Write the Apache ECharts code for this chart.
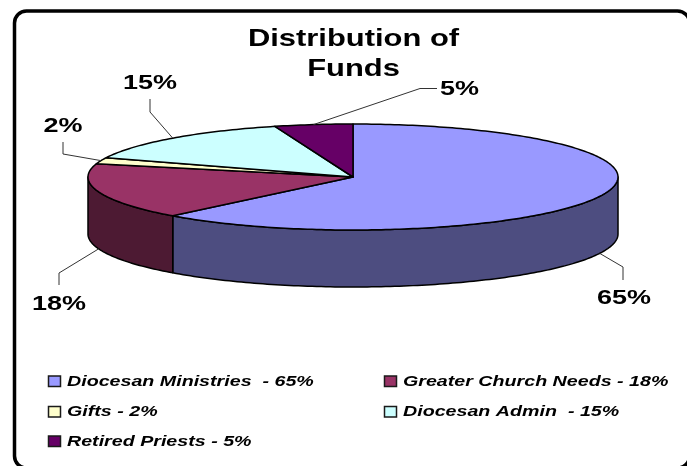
<!DOCTYPE html>
<html>
<head>
<meta charset="utf-8">
<style>
  html, body { margin: 0; padding: 0; background: #fff; }
  #chart { width: 687px; height: 466px; }
</style>
<script src="https://cdn.jsdelivr.net/npm/echarts@6/dist/echarts.min.js"></script>
</head>
<body>
<div id="chart"></div>
<script>
// values as labelled on the slide (they add up to 105, the slices are shares of that sum)
const categories = ["Diocesan Ministries  - 65%", "Greater Church Needs - 18%", "Gifts - 2%", "Diocesan Admin  - 15%", "Retired Priests - 5%"];
const values = [65, 18, 2, 15, 5];
const percentLabels = ["65%", "18%", "2%", "15%", "5%"];
const titleText = "Distribution of\nFunds";

const topColors = ["#9999ff", "#993366", "#ffffcc", "#ccffff", "#660066"];
const sideColors = ["#4d4d80", "#4d1a33", "#808066", "#668080", "#330033"];

// pie geometry
const cx = 353, cy = 177, rx = 265, ry = 53, depth = 57;

// leader line bend + end, then label centre, one per slice
const leaders = [
  { bend: [623, 267], end: [623, 280], text: [624, 298] },
  { bend: [59, 273], end: [59, 285], text: [59, 304] },
  { bend: [63, 154], end: [63, 142], text: [63, 126] },
  { bend: [150, 112], end: [150, 99], text: [150, 83] },
  { bend: [420, 88.5], end: [437, 88.5], text: [459.5, 89] }
];
// legend cells, filled by row
const legendX = [48, 384], legendY = [381.5, 412, 441.5];

const total = values.reduce((a, b) => a + b, 0);

function pt(deg, dy) {
  const r = deg * Math.PI / 180;
  return [cx + rx * Math.sin(r), cy - ry * Math.cos(r) + (dy || 0)];
}

function arc(from, to, dy) {
  const res = [];
  const n = Math.max(2, Math.ceil(to - from));
  for (let i = 0; i <= n; i++) {
    res.push(pt(from + (to - from) * i / n, dy));
  }
  return res;
}

function renderSlice(params, api) {
  const i = params.dataIndex;
  let before = 0;
  for (let k = 0; k < i; k++) before += values[k];
  const start = before / total * 360;
  const end = (before + api.value(0)) / total * 360;
  const mid = (start + end) / 2;
  const children = [];

  // front wall, only the part between 90 and 270 degrees shows
  const wallFrom = Math.max(start, 90), wallTo = Math.min(end, 270);
  if (wallTo > wallFrom) {
    children.push({
      type: "polygon",
      shape: { points: arc(wallFrom, wallTo, 0).concat(arc(wallFrom, wallTo, depth).reverse()) },
      style: { fill: sideColors[i], stroke: "#000", lineWidth: 1.5, lineJoin: "round" }
    });
  }
  // top face
  children.push({
    type: "polygon",
    shape: { points: [[cx, cy]].concat(arc(start, end, 0)) },
    style: { fill: topColors[i], stroke: "#000", lineWidth: 1.5, lineJoin: "round" }
  });

  // leader line and percent label
  const onWall = mid > 90 && mid < 270;
  const l = leaders[i];
  children.push({
    type: "polyline",
    shape: { points: [pt(mid, onWall ? depth : 0), l.bend, l.end] },
    style: { fill: "none", stroke: "#333", lineWidth: 1 }
  });
  children.push({
    type: "text",
    x: l.text[0], y: l.text[1], scaleX: 1.35,
    style: {
      text: percentLabels[i], fill: "#000",
      font: "bold 20px 'Liberation Sans'",
      textAlign: "center", textVerticalAlign: "middle"
    }
  });

  // legend entry
  const lx = legendX[i % 2], ly = legendY[Math.floor(i / 2)];
  children.push({
    type: "rect",
    shape: { x: lx + 0.5, y: ly - 5.5, width: 12, height: 10.5 },
    style: { fill: topColors[i], stroke: "#1a1a1a", lineWidth: 1.5 }
  });
  children.push({
    type: "text",
    x: lx + 19, y: ly, scaleX: 1.31,
    style: {
      text: categories[i], fill: "#000",
      font: "italic bold 15px 'Liberation Sans'",
      textAlign: "left", textVerticalAlign: "middle"
    }
  });

  return { type: "group", children: children };
}

const chart = echarts.init(document.getElementById("chart"));
chart.setOption({
  animation: false,
  backgroundColor: "#fff",
  graphic: [
    {
      type: "rect",
      z: 0,
      shape: { x: 14.5, y: 11, width: 675, height: 457, r: 12 },
      style: { fill: "#fff", stroke: "#000", lineWidth: 3.5 }
    },
    {
      type: "text",
      z: 5,
      x: 353.5, y: 54, scaleX: 1.288,
      style: {
        text: titleText, fill: "#000",
        font: "bold 24px 'Liberation Sans'",
        lineHeight: 30,
        textAlign: "center", textVerticalAlign: "middle"
      }
    }
  ],
  series: [
    {
      type: "custom",
      coordinateSystem: "none",
      z: 3,
      data: values.map(v => [v]),
      renderItem: renderSlice
    }
  ]
});
</script>
</body>
</html>
